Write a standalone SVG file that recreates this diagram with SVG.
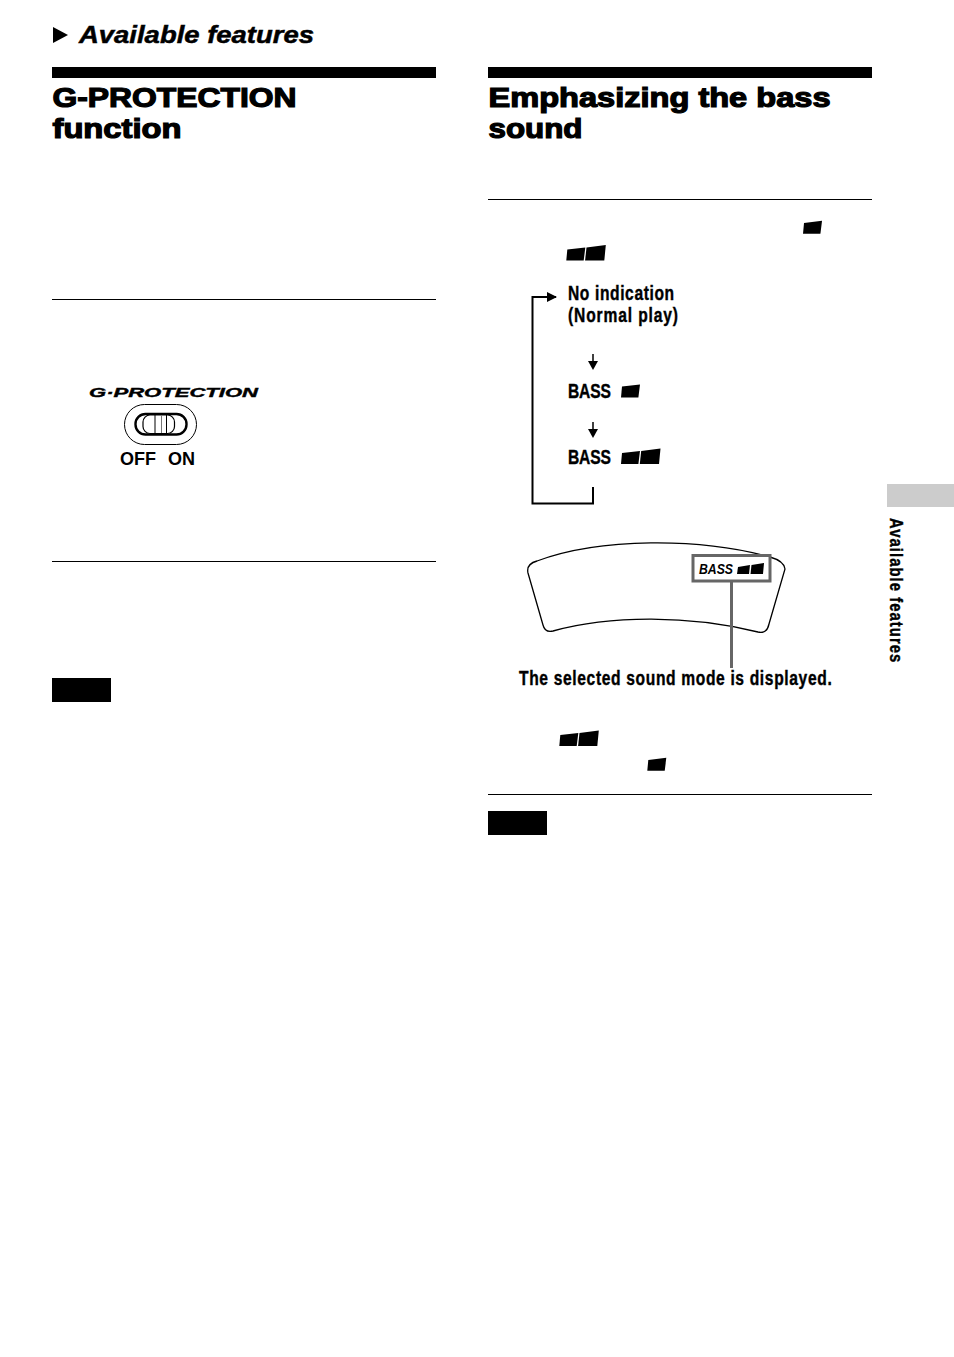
<svg xmlns="http://www.w3.org/2000/svg" xmlns:xlink="http://www.w3.org/1999/xlink" width="954" height="1357" viewBox="0 0 954 1357">
<style>
.h{font-family:"Liberation Sans",Arial,sans-serif;font-weight:700;font-size:27px;fill:#000;stroke:#000;stroke-width:1.200px}
.n{font-family:"Liberation Sans",Arial,sans-serif;font-weight:700;font-size:20px;fill:#000;stroke:#000;stroke-width:.4px}
.s{font-family:"Liberation Sans",Arial,sans-serif;font-weight:700;font-size:18px;fill:#000}
.rule{fill:#000}
.line{fill:none;stroke:#000;stroke-width:2}
.gline{fill:none;stroke:#666;stroke-width:3}
</style>
<defs>
<polygon id="b1" points="1,2.2 19,0 17.4,13 0,13" fill="#000"/>
<g id="b2"><polygon points="1,2.6 19,0.4 17.400,13.500 0,13.500" fill="#000"/><polygon points="20.200,0.400 39.500,-2 38,13.500 18.800,13.500" fill="#000"/></g>
<marker id="ah" viewBox="0 0 10 10" refX="9" refY="5" markerWidth="5" markerHeight="5" orient="auto"><path d="M0 0L10 5L0 10Z" fill="#000"/></marker>
</defs>
<g id="section-title">
<polygon points="53,27 68,35 53,43" fill="#000"/>
<text x="79" y="43" font-family="'Liberation Sans',Arial,sans-serif" font-weight="700" font-style="italic" font-size="24" stroke="#000" stroke-width=".5" textLength="235" lengthAdjust="spacingAndGlyphs">Available features</text>
</g>
<g id="left-heading">
<rect class="rule" x="52" y="67" width="384" height="11"/>
<text class="h" x="52.500" y="106.500" textLength="244" lengthAdjust="spacingAndGlyphs">G-PROTECTION</text>
<text class="h" x="52.500" y="137.500" textLength="129" lengthAdjust="spacingAndGlyphs">function</text>
</g>
<g id="left-rules">
<rect class="rule" x="52" y="299" width="384" height="1"/>
<rect class="rule" x="52" y="561" width="384" height="1"/>
</g>
<g id="switch">
<text x="89" y="397" font-family="'Liberation Sans',Arial,sans-serif" font-weight="700" font-style="italic" font-size="13" stroke="#000" stroke-width=".4" textLength="169" lengthAdjust="spacingAndGlyphs">G·PROTECTION</text>
<rect x="124.500" y="404.500" width="72" height="40" rx="20" fill="#fff" stroke="#000" stroke-width="1"/>
<rect x="135.500" y="414" width="51" height="20.500" rx="10" fill="#fff" stroke="#000" stroke-width="2.400"/>
<rect x="143" y="415" width="31.500" height="18.500" rx="7" fill="#fff" stroke="#000" stroke-width="1.200"/>
<path d="M155 415v18M166.500 415v18" fill="none" stroke="#000" stroke-width="1"/>
<path d="M161.500 415v18" stroke="#777" stroke-width="1"/>
<text class="s" x="120" y="465" textLength="36" lengthAdjust="spacingAndGlyphs">OFF</text>
<text class="s" x="168" y="465" textLength="27" lengthAdjust="spacingAndGlyphs">ON</text>
</g>
<g id="note-left"><rect class="rule" x="52" y="678" width="59" height="24"/></g>
<g id="right-heading">
<rect class="rule" x="488" y="67" width="384" height="11"/>
<text class="h" x="488.500" y="106.500" textLength="342" lengthAdjust="spacingAndGlyphs">Emphasizing the bass</text>
<text class="h" x="488.500" y="137.500" textLength="94" lengthAdjust="spacingAndGlyphs">sound</text>
</g>
<g id="right-rules">
<rect class="rule" x="488" y="199" width="384" height="1"/>
<rect class="rule" x="488" y="794" width="384" height="1"/>
</g>
<g id="step-symbols">
<use xlink:href="#b1" href="#b1" x="803" y="220.800"/>
<use xlink:href="#b2" href="#b2" x="566.300" y="247"/>
<use xlink:href="#b2" href="#b2" x="559.300" y="732.500"/>
<use xlink:href="#b1" href="#b1" x="647.300" y="757.800"/>
</g>
<g id="node-normal">
<text class="n" transform="translate(568 300) scale(.78 1)" textLength="136" lengthAdjust="spacing">No indication</text>
<text class="n" transform="translate(568 322) scale(.78 1)" textLength="141" lengthAdjust="spacing">(Normal play)</text>
</g>
<g id="node-bass1">
<text class="n" transform="translate(568 398) scale(.78 1)" textLength="55" lengthAdjust="spacing">BASS</text>
<use xlink:href="#b1" href="#b1" x="621" y="384.400"/>
</g>
<g id="node-bass2">
<text class="n" transform="translate(568 464) scale(.78 1)" textLength="55" lengthAdjust="spacing">BASS</text>
<use xlink:href="#b2" href="#b2" x="621" y="450.500"/>
</g>
<g id="display">
<path d="M537 561C600 537.500 700 537.500 770 557Q784 561 785 569L769 624Q767 634 758 632C690 615 610 615 553 631Q545 633 543 625L528 573Q526 564 537 561Z" fill="#fff" stroke="#000" stroke-width="1.300"/>
<rect x="693" y="555.500" width="77" height="25.500" fill="#fff" stroke="#666" stroke-width="3"/>
<text x="699" y="574" font-family="'Liberation Sans',Arial,sans-serif" font-weight="700" font-style="italic" font-size="15" textLength="34" lengthAdjust="spacingAndGlyphs">BASS</text>
<polygon points="738,567 750,565 749,574 737,574" fill="#000"/>
<polygon points="751.500,565 764,563 763,574 750.500,574" fill="#000"/>
</g>
<g id="connectors">
<path class="line" d="M593 487V503.500H532.500V297H556" marker-end="url(#ah)"/>
<path d="M593 354V365" stroke="#000" stroke-width="1.500"/><polygon points="588,361 598,361 593,370" fill="#000"/>
<path d="M593 422V433" stroke="#000" stroke-width="1.500"/><polygon points="588,429 598,429 593,438" fill="#000"/>
<path class="gline" d="M731.500 582V668"/>
</g>
<g id="display-caption">
<text class="n" transform="translate(519 685) scale(.78 1)" textLength="401" lengthAdjust="spacing">The selected sound mode is displayed.</text>
</g>
<g id="note-right"><rect class="rule" x="488" y="811" width="59" height="24"/></g>
<g id="side-tab">
<rect x="887" y="484" width="67" height="23" fill="#ccc"/>
<text transform="translate(890 518) rotate(90) scale(.78 1)" class="n" style="font-size:19px" textLength="185" lengthAdjust="spacing">Available features</text>
</g>
</svg>
